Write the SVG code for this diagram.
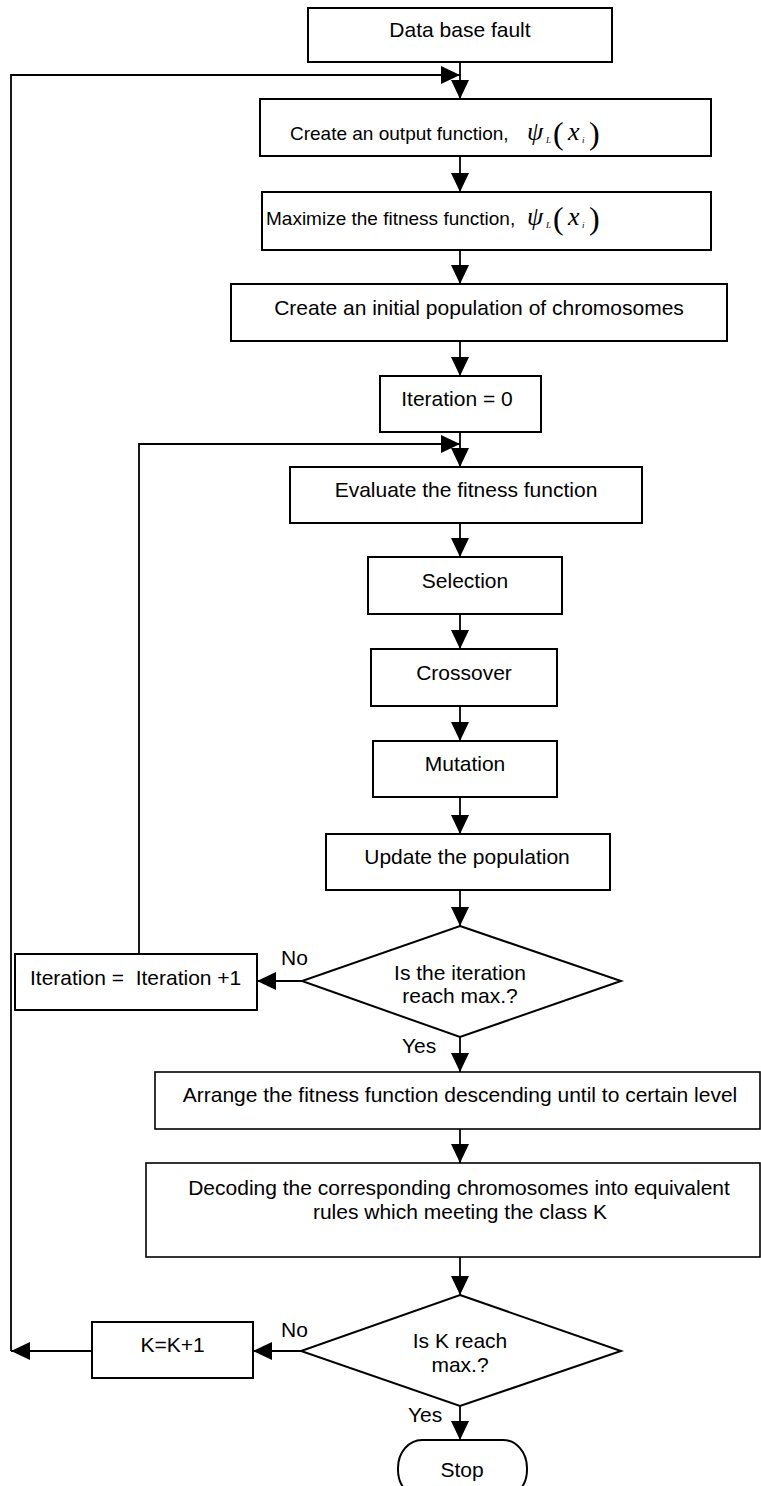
<svg xmlns="http://www.w3.org/2000/svg" width="761" height="1486" viewBox="0 0 761 1486">
<style>
.b{fill:#fff;stroke:#000;stroke-width:2}
.b2{fill:#fff;stroke:#000;stroke-width:1.6}
.t{font-family:"Liberation Sans",Arial,sans-serif;font-size:21px;fill:#000;text-anchor:middle}
.ts{font-family:"Liberation Sans",Arial,sans-serif;font-size:19px;fill:#000}
.l{font-family:"Liberation Sans",Arial,sans-serif;font-size:21px;fill:#000}
.c{fill:none;stroke:#000;stroke-width:1.8}
.m{font-family:"Liberation Serif","Times New Roman",serif;font-style:italic;fill:#000}
.p{font-family:"Liberation Serif","Times New Roman",serif;fill:#000;font-size:32px}
</style>
<defs>
<marker id="ah" markerWidth="19" markerHeight="18" refX="19" refY="9" orient="auto" markerUnits="userSpaceOnUse">
<path d="M0,0 L19,9 L0,18 z" fill="#000"/>
</marker>
</defs>
<rect width="761" height="1486" fill="#fff"/>

<g id="connectors">
<line class="c" x1="460" y1="62" x2="460" y2="99" marker-end="url(#ah)"/>
<line class="c" x1="460" y1="156" x2="460" y2="192" marker-end="url(#ah)"/>
<line class="c" x1="460" y1="250" x2="460" y2="284" marker-end="url(#ah)"/>
<line class="c" x1="460" y1="341" x2="460" y2="376" marker-end="url(#ah)"/>
<line class="c" x1="460" y1="432" x2="460" y2="467" marker-end="url(#ah)"/>
<line class="c" x1="460" y1="523" x2="460" y2="557" marker-end="url(#ah)"/>
<line class="c" x1="460" y1="614" x2="460" y2="649" marker-end="url(#ah)"/>
<line class="c" x1="460" y1="706" x2="460" y2="741" marker-end="url(#ah)"/>
<line class="c" x1="460" y1="797" x2="460" y2="834" marker-end="url(#ah)"/>
<line class="c" x1="460" y1="890" x2="460" y2="926" marker-end="url(#ah)"/>
<line class="c" x1="302" y1="981" x2="257" y2="981" marker-end="url(#ah)"/>
<polyline class="c" points="139,954 139,444 460,444" marker-end="url(#ah)"/>
<line class="c" x1="460" y1="1037" x2="460" y2="1072" marker-end="url(#ah)"/>
<line class="c" x1="460" y1="1129" x2="460" y2="1163" marker-end="url(#ah)"/>
<line class="c" x1="460" y1="1257" x2="460" y2="1295" marker-end="url(#ah)"/>
<line class="c" x1="301" y1="1351" x2="253" y2="1351" marker-end="url(#ah)"/>
<line class="c" x1="92" y1="1351" x2="11" y2="1351" marker-end="url(#ah)"/>
<polyline class="c" points="11,1351 11,75 460,75" marker-end="url(#ah)"/>
<line class="c" x1="460" y1="1406" x2="460" y2="1440" marker-end="url(#ah)"/>
<text class="l" x="281" y="965">No</text>
<text class="l" x="402" y="1053">Yes</text>
<text class="l" x="281" y="1337">No</text>
<text class="l" x="408" y="1422">Yes</text>
</g>

<g id="n_database">
<rect class="b" x="308" y="8" width="304" height="54"/>
<text class="t" x="460" y="37">Data base fault</text>
</g>

<g id="n_output">
<rect class="b" x="260" y="99" width="451" height="57"/>
<text class="ts" x="290" y="140">Create an output function,</text>
<text class="m" x="527" y="140" font-size="26">ψ</text>
<text class="m" x="546" y="143" font-size="9">L</text>
<text class="p" x="553" y="144">(</text>
<text class="m" x="568" y="140" font-size="26">x</text>
<text class="m" x="582" y="143" font-size="9">i</text>
<text class="p" x="589" y="144">)</text>
</g>

<g id="n_maximize">
<rect class="b" x="262" y="192" width="449" height="58"/>
<text class="ts" x="266" y="225">Maximize the fitness function,</text>
<text class="m" x="527" y="225" font-size="26">ψ</text>
<text class="m" x="546" y="228" font-size="9">L</text>
<text class="p" x="553" y="229">(</text>
<text class="m" x="568" y="225" font-size="26">x</text>
<text class="m" x="582" y="228" font-size="9">i</text>
<text class="p" x="589" y="229">)</text>
</g>

<g id="n_initpop">
<rect class="b" x="231" y="284" width="496" height="57"/>
<text class="t" x="479" y="315">Create an initial population of chromosomes</text>
</g>

<g id="n_iter0">
<rect class="b" x="380" y="376" width="161" height="56"/>
<text class="t" x="457" y="406">Iteration = 0</text>
</g>

<g id="n_evaluate">
<rect class="b" x="290" y="467" width="352" height="56"/>
<text class="t" x="466" y="497">Evaluate the fitness function</text>
</g>

<g id="n_selection">
<rect class="b" x="368" y="557" width="194" height="57"/>
<text class="t" x="465" y="588">Selection</text>
</g>

<g id="n_crossover">
<rect class="b" x="371" y="649" width="186" height="57"/>
<text class="t" x="464" y="680">Crossover</text>
</g>

<g id="n_mutation">
<rect class="b" x="373" y="741" width="184" height="56"/>
<text class="t" x="465" y="771">Mutation</text>
</g>

<g id="n_update">
<rect class="b" x="326" y="834" width="284" height="56"/>
<text class="t" x="467" y="864">Update the population</text>
</g>

<g id="n_decision1">
<polygon class="b" points="460,926 621,981 460,1037 302,981"/>
<text class="t" x="460" y="980">Is the iteration</text>
<text class="t" x="460" y="1003">reach max.?</text>
</g>

<g id="n_iterinc">
<rect class="b" x="15" y="954" width="242" height="56"/>
<text class="l" x="30" y="985" xml:space="preserve">Iteration =  Iteration +1</text>
</g>

<g id="n_arrange">
<rect class="b2" x="155" y="1072" width="605" height="57"/>
<text class="t" x="460" y="1102">Arrange the fitness function descending until to certain level</text>
</g>

<g id="n_decoding">
<rect class="b2" x="146" y="1163" width="614" height="94"/>
<text class="t" x="459" y="1195">Decoding the corresponding chromosomes into equivalent</text>
<text class="t" x="460" y="1219">rules which meeting the class K</text>
</g>

<g id="n_decision2">
<polygon class="b" points="460,1295 621,1351 460,1406 301,1351"/>
<text class="t" x="460" y="1348">Is K reach</text>
<text class="t" x="460" y="1372">max.?</text>
</g>

<g id="n_kinc">
<rect class="b" x="92" y="1322" width="161" height="56"/>
<text class="t" x="172.5" y="1352">K=K+1</text>
</g>

<g id="n_stop">
<rect class="b" x="398" y="1440" width="129" height="58" rx="24" ry="28"/>
<text class="t" x="462" y="1477">Stop</text>
</g>
</svg>
